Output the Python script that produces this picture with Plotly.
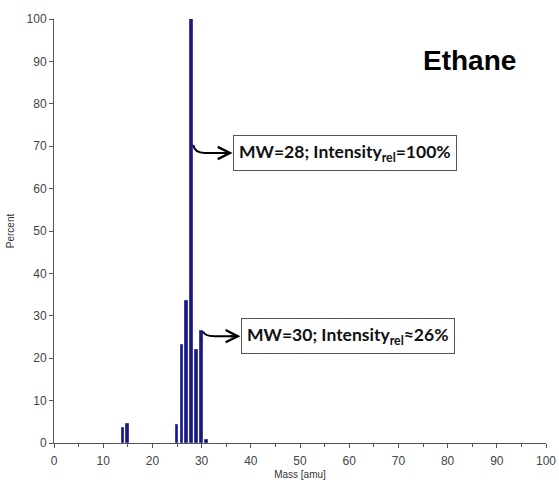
import plotly.graph_objects as go

masses = [14, 15, 25, 26, 27, 28, 29, 30, 31]
percent = [3.5, 4.6, 4.2, 23.0, 33.5, 100.0, 22.0, 26.3, 0.6]
bar_colors = ["#1b1b6f"] * 8 + ["#111111"]
x_ticks = [0, 10, 20, 30, 40, 50, 60, 70, 80, 90, 100]
y_ticks = [0, 10, 20, 30, 40, 50, 60, 70, 80, 90, 100]

fig = go.Figure()
fig.add_trace(go.Bar(
    x=masses, y=percent, width=0.55,
    marker=dict(color=bar_colors, line=dict(color="#3c3cb4", width=1)),
    showlegend=False,
))

axis_font = dict(family="Liberation Sans, Arial", size=12, color="#444444")

fig.update_layout(
    width=559, height=480,
    margin=dict(l=54, r=13, t=19, b=37),
    paper_bgcolor="white", plot_bgcolor="white",
    bargap=0,
    xaxis=dict(range=[0, 100], tickvals=x_ticks, ticks="outside", ticklen=4,
               tickcolor="#555", showline=True, linecolor="#555", linewidth=1,
               showgrid=False, zeroline=False, tickfont=axis_font, automargin=False,
               ticklabelstandoff=3,
               minor=dict(dtick=5, tick0=0, ticks="outside", ticklen=3, tickcolor="#555"),
               title=dict(text="Mass [amu]", font=dict(family="Liberation Sans, Arial", size=10, color="#333"), standoff=7)),
    yaxis=dict(range=[0, 100], tickvals=y_ticks, ticks="outside", ticklen=4,
               tickcolor="#555", showline=True, linecolor="#555", linewidth=1,
               showgrid=False, zeroline=False, tickfont=axis_font, automargin=False,
               title=dict(text="Percent", font=dict(family="Liberation Sans, Arial", size=10, color="#333"), standoff=10)),
)

# Title label
fig.add_annotation(x=84.5, y=90.3, xref="x", yref="y", text="<b>Ethane</b>",
                   showarrow=False, font=dict(family="Liberation Sans, Arial", size=28, color="black"))

box_font = dict(family="Lato, Carlito, Calibri", size=17.5, color="#111")
labels = [
    dict(text="<b>MW=28; Intensity<sub>rel</sub>=100%</b>", x=36.4, y=68.4, sx=28.3, sy=70.3),
    dict(text="<b>MW=30; Intensity<sub>rel</sub>≈26%</b>", x=38.0, y=25.2, sx=30.3, sy=26.3),
]
for lb in labels:
    fig.add_annotation(x=lb["x"], y=lb["y"], xref="x", yref="y", text=lb["text"],
                       showarrow=False, xanchor="left", font=box_font,
                       bordercolor="#555", borderwidth=1, borderpad=5, bgcolor="white")
    # curved connector
    mid_x = lb["sx"] + 1.5
    fig.add_shape(type="path", xref="x", yref="y",
                  path=f"M {lb['sx']},{lb['sy']} Q {lb['sx']+0.3},{lb['y']} {mid_x+0.8},{lb['y']} L {lb['x']-1.5},{lb['y']}",
                  line=dict(color="black", width=2))
    fig.add_annotation(x=lb["x"] - 0.1, y=lb["y"], ax=lb["x"] - 2.5, ay=lb["y"],
                       xref="x", yref="y", axref="x", ayref="y", text="",
                       showarrow=True, arrowhead=5, arrowsize=1.2, arrowwidth=2, arrowcolor="black")

fig.write_html("out.html")
